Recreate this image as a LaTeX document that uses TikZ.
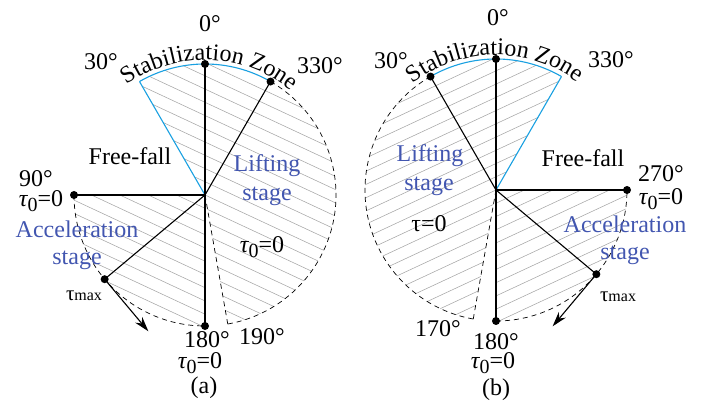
\documentclass[tikz,border=0pt]{standalone}
\usepackage{fontspec}
\setmainfont{Liberation Serif}
\newfontfamily\timesfont{Liberation Serif}
\usetikzlibrary{arrows.meta,calc,decorations.text}
\definecolor{zoneblue}{RGB}{25,160,225}
\definecolor{stageblue}{RGB}{66,86,176}
\newcommand\lblsize{\timesfont\fontsize{24}{26}\selectfont}
\newcommand\tauz{{\itshape τ}\raisebox{-0.22em}{\fontsize{20}{20}\selectfont 0}=0}
\newcommand\taumax{{\fontsize{21}{21}\selectfont τ}{\fontsize{16}{16}\selectfont max}}

\begin{document}
\begin{tikzpicture}[x=1pt, y=1pt,
    spoke/.style={line width=1.1pt, black},
    zone/.style={line width=1.1pt, zoneblue},
    rim/.style={line width=0.7pt, dash pattern=on 5pt off 4pt},
    hatch/.style={line width=0.55pt, gray!70},
    arr/.style={-{Stealth[length=15pt, width=9pt]}, line width=1.1pt},
    lbl/.style={font=\lblsize, inner sep=0pt},
    stg/.style={lbl, text=stageblue},
    arctext/.style={decorate, decoration={text along path, text align=center,
                    text={|\lblsize|Stabilization Zone}}}
]
\useasboundingbox (0,0) rectangle (708,406);
\def\R{131}

% (a)
\coordinate (A) at (205,211);
\path (A) ++(90:\R) coordinate (a0)
      (A) ++(120:\R) coordinate (a30)
      (A) ++(60:\R) coordinate (a330)
      (A) ++(180:\R) coordinate (a90)
      (A) ++(270:\R) coordinate (a180)
      (A) ++(280:\R) coordinate (a190)
      (A) ++(220:\R) coordinate (amax);
\coordinate (aend) at ($(amax)+(310:68)$);

\begin{scope}
  \clip (A) -- (a30) arc[start angle=120, end angle=-80, radius=\R] -- cycle;
  \begin{scope}[shift={(A)}, rotate=-25]
    \foreach \k in {-13,...,13} \draw[hatch] (-170,\k*12) -- (170,\k*12);
  \end{scope}
\end{scope}
\begin{scope}
  \clip (A) -- (a90) arc[start angle=180, end angle=270, radius=\R] -- cycle;
  \begin{scope}[shift={(A)}, rotate=-25]
    \foreach \k in {-13,...,13} \draw[hatch] (-170,\k*12) -- (170,\k*12);
  \end{scope}
\end{scope}

\draw[rim] (a330) arc[start angle=60, end angle=-80, radius=\R];
\draw[rim] (a90) arc[start angle=180, end angle=270, radius=\R];
\draw[rim] (A) -- (a190);
\draw[zone] (a30) -- (A);
\draw[zone] (a30) arc[start angle=120, end angle=60, radius=\R];
\draw[spoke] (A) -- (a0);
\draw[spoke] (A) -- (a330);
\draw[spoke] (A) -- (a90);
\draw[spoke] (A) -- (a180);
\draw[spoke] (A) -- (amax);
\draw[arr] (amax) -- (aend);
\foreach \p in {a0,a330,a90,a180,amax} \fill (\p) circle (4);

\path[arctext] (A) ++(130:135) arc[start angle=130, end angle=46, radius=135];
\node[lbl] (a0lbl) at (210,382) {0°};
\node[lbl] (a30lbl) at (101,344) {30°};
\node[lbl] (a330lbl) at (320,340) {330°};
\node[lbl] (afree) at (130,250) {Free-fall};
\node[lbl] (a90lbl) at (36,227) {90°};
\node[lbl] (a90tau) at (41,205) {\tauz};
\node[stg] (aacc) at (77,177) {Acceleration};
\node[stg] (aaccst) at (77,146) {stage};
\node[lbl] (amaxlbl) at (84,110) {\taumax};
\node[stg] (alift) at (267,240) {Lifting};
\node[stg] (aliftst) at (267,210) {stage};
\node[lbl] (alifttau) at (262,159) {\tauz};
\node[lbl] (a180lbl) at (207,66) {180°};
\node[lbl] (a180tau) at (200,43) {\tauz};
\node[lbl] (a190lbl) at (262,69) {190°};
\node[lbl] (acap) at (204,18) {(a)};

% (b)
\coordinate (B) at (496,216);
\path (B) ++(90:\R) coordinate (b0)
      (B) ++(120:\R) coordinate (b30)
      (B) ++(60:\R) coordinate (b330)
      (B) ++(0:\R) coordinate (b270)
      (B) ++(270:\R) coordinate (b180)
      (B) ++(260:\R) coordinate (b170)
      (B) ++(320:\R) coordinate (bmax);
\coordinate (bend) at ($(bmax)+(230:68)$);

\begin{scope}
  \clip (B) -- (b330) arc[start angle=60, end angle=260, radius=\R] -- cycle;
  \begin{scope}[shift={(B)}, rotate=25]
    \foreach \k in {-13,...,13} \draw[hatch] (-170,\k*12) -- (170,\k*12);
  \end{scope}
\end{scope}
\begin{scope}
  \clip (B) -- (b180) arc[start angle=270, end angle=360, radius=\R] -- cycle;
  \begin{scope}[shift={(B)}, rotate=25]
    \foreach \k in {-13,...,13} \draw[hatch] (-170,\k*12) -- (170,\k*12);
  \end{scope}
\end{scope}

\draw[rim] (b30) arc[start angle=120, end angle=260, radius=\R];
\draw[rim] (b180) arc[start angle=270, end angle=360, radius=\R];
\draw[rim] (B) -- (b170);
\draw[zone] (b330) -- (B);
\draw[zone] (b30) arc[start angle=120, end angle=60, radius=\R];
\draw[spoke] (B) -- (b0);
\draw[spoke] (B) -- (b30);
\draw[spoke] (B) -- (b270);
\draw[spoke] (B) -- (b180);
\draw[spoke] (B) -- (bmax);
\draw[arr] (bmax) -- (bend);
\foreach \p in {b0,b30,b270,b180,bmax} \fill (\p) circle (4);

\path[arctext] (B) ++(132:135) arc[start angle=132, end angle=49, radius=135];
\node[lbl] (b0lbl) at (498,388) {0°};
\node[lbl] (b30lbl) at (391,345) {30°};
\node[lbl] (b330lbl) at (611,346) {330°};
\node[lbl] (bfree) at (583,248) {Free-fall};
\node[lbl] (b270lbl) at (661,232) {270°};
\node[lbl] (b270tau) at (661,207) {\tauz};
\node[stg] (bacc) at (625,182) {Acceleration};
\node[stg] (baccst) at (625,151) {stage};
\node[lbl] (bmaxlbl) at (618,109) {\taumax};
\node[stg] (blift) at (430,250) {Lifting};
\node[stg] (bliftst) at (429,220) {stage};
\node[lbl] (blifttau) at (429,182) {τ=0};
\node[lbl] (b170lbl) at (438,77) {170°};
\node[lbl] (b180lbl) at (496,64) {180°};
\node[lbl] (b180tau) at (493,43) {\tauz};
\node[lbl] (bcap) at (496,16) {(b)};
\end{tikzpicture}
\end{document}
